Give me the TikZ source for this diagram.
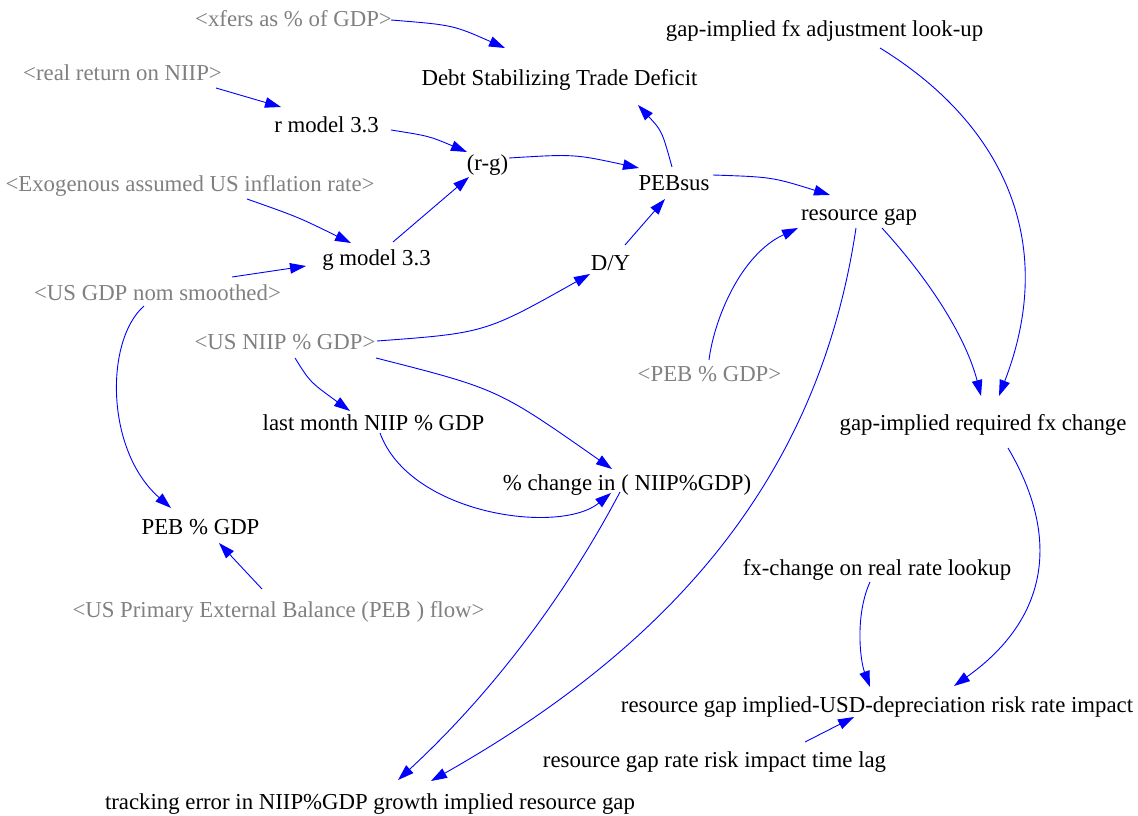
\documentclass[tikz,border=0pt]{standalone}
\usepackage{fontspec}
\setmainfont{Liberation Serif}
\usetikzlibrary{arrows.meta,calc}
\definecolor{vgray}{RGB}{128,128,128}
\definecolor{vblue}{RGB}{0,0,255}
\begin{document}
\begin{tikzpicture}[x=1pt,y=-1pt,
  var/.style={font=\fontsize{22.8}{27}\selectfont, inner sep=0pt, text height=16pt, text depth=5pt, anchor=center, yshift=-1.5pt},
  shadowvar/.style={var, text=vgray},
  link/.style={draw=vblue, line width=0.9pt, -{Triangle[length=16pt,width=10.5pt]}}]
\useasboundingbox (0,0) rectangle (1138,816);

% nodes
\node[shadowvar] (xf) at (293.5,20) {<xfers as \% of GDP>};
\node[var] (debt) at (559.5,78) {Debt Stabilizing Trade Deficit};
\node[shadowvar] (rr) at (122.5,74) {<real return on NIIP>};
\node[var] (rm) at (326.5,125) {r model 3.3};
\node[var] (rg) at (487.5,163) {(r-g)};
\node[var] (pebsus) at (674,183) {PEBsus};
\node[shadowvar] (exo) at (190,184) {<Exogenous assumed US inflation rate>};
\node[var] (gap) at (859,213) {resource gap};
\node[var] (gm) at (376.5,258) {g model 3.3};
\node[var] (dy) at (610.5,263) {D/Y};
\node[shadowvar] (gdp) at (157.5,293) {<US GDP nom smoothed>};
\node[shadowvar] (niip) at (285,342) {<US NIIP \% GDP>};
\node[shadowvar] (pebg) at (709.5,374) {<PEB \% GDP>};
\node[var] (lookup) at (824.5,30) {gap-implied fx adjustment look-up};
\node[var] (lm) at (373.5,423) {last month NIIP \% GDP};
\node[var] (req) at (983,423) {gap-implied required fx change};
\node[var] (chg) at (627,483) {\% change in ( NIIP\%GDP)};
\node[var] (peb) at (200.5,527) {PEB \% GDP};
\node[shadowvar] (usp) at (278.5,610) {<US Primary External Balance (PEB ) flow>};
\node[var] (fxl) at (877,568) {fx-change on real rate lookup};
\node[var] (imp) at (877,705) {resource gap implied-USD-depreciation risk rate impact};
\node[var] (lag) at (714.5,760) {resource gap rate risk impact time lag};
\node[var] (trk) at (370,802) {tracking error in NIIP\%GDP growth implied resource gap};

% connectors
\draw[link] ($(xf)+(97.5,-1.5)$) .. controls (453,25) .. ($(debt)+(-54.5,-31.5)$);
\draw[link] ($(rr)+(93.5,12.5)$) -- ($(rm)+(-45.5,-19.5)$);
\draw[link] ($(rm)+(64.5,3.5)$) .. controls (429,136) .. ($(rg)+(-20.5,-12.5)$);
\draw[link] ($(exo)+(57,13.5)$) .. controls (298,217) .. ($(gm)+(-25.5,-16.5)$);
\draw[link] ($(gm)+(16.5,-17.5)$) -- ($(rg)+(-18.5,12.5)$);
\draw[link] ($(gdp)+(74.5,-17.5)$) -- ($(gm)+(-70.5,6.5)$);
\draw[link] ($(rg)+(21.5,-6.5)$) .. controls (574,154) .. ($(pebsus)+(-35,-16.5)$);
\draw[link] ($(pebsus)+(-2,-17.5)$) .. controls (662,131) .. ($(debt)+(78.5,25.5)$);
\draw[link] ($(dy)+(14.5,-19.5)$) -- ($(pebsus)+(-9,14.5)$);
\draw[link] ($(pebsus)+(39,-9.5)$) .. controls (772,177) .. ($(gap)+(-29,-19.5)$);
\draw[link] ($(niip)+(92,-2.5)$) .. controls (485,333) .. ($(dy)+(-20.5,9.5)$);
\draw[link] ($(niip)+(10,14.5)$) .. controls (310,382) .. ($(lm)+(-23.5,-13.5)$);
\draw[link] ($(niip)+(91,14.5)$) .. controls (498,389) .. ($(chg)+(-15,-15.5)$);
\draw[link] ($(lm)+(6.5,8.5)$) .. controls (410,515) and (560,535) .. ($(chg)+(-16,8.5)$);
\draw[link] ($(gdp)+(-13.5,11.5)$) .. controls (105,340) and (105,450) .. ($(peb)+(-29.5,-20.5)$);
\draw[link] ($(usp)+(-16.5,-22.5)$) -- ($(peb)+(18.5,14.5)$);
\draw[link] ($(pebg)+(-0.5,-15.5)$) .. controls (714,320) and (740,255) .. ($(gap)+(-61,13.5)$);
\draw[link] ($(gap)+(-3,13.5)$) .. controls (820,470) and (680,640) .. ($(trk)+(61,-22.5)$);
\draw[link] ($(chg)+(-7,7.5)$) .. controls (563,600) and (489,696) .. ($(trk)+(28,-23.5)$);
\draw[link] ($(gap)+(23,13.5)$) .. controls (934,285) and (967,341) .. ($(req)+(-2,-28.5)$);
\draw[link] ($(lookup)+(55.5,16.5)$) .. controls (999,121) and (1060,238) .. ($(req)+(16,-28.5)$);
\draw[link] ($(req)+(25,23.5)$) .. controls (1064,543) and (1044,622) .. ($(imp)+(77,-20.5)$);
\draw[link] ($(fxl)+(-7,12.5)$) .. controls (855,615) and (860,660) .. ($(imp)+(-7,-19.5)$);
\draw[link] ($(lag)+(90.5,-19.5)$) -- ($(imp)+(-23,10.5)$);
\end{tikzpicture}
\end{document}
